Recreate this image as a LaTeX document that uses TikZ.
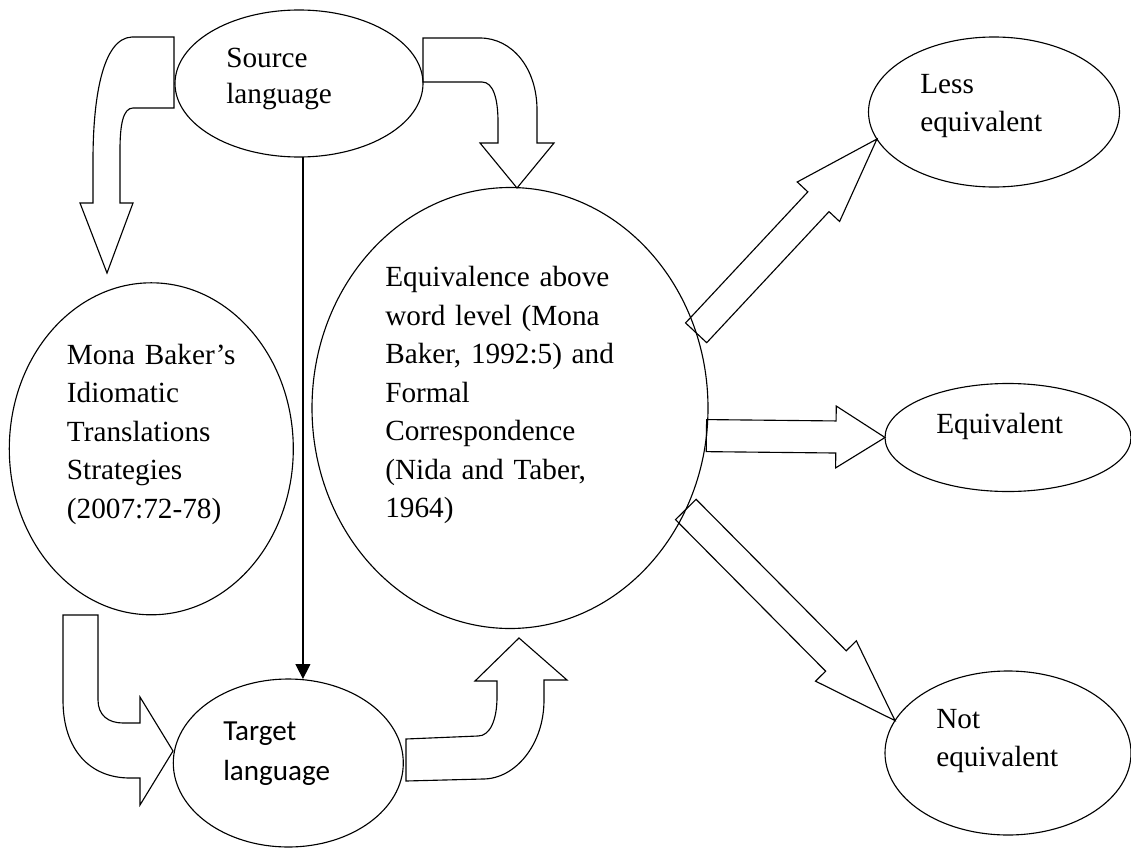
\documentclass[tikz,border=0pt]{standalone}
\usepackage{fontspec}
\setmainfont{Liberation Serif}
\newfontfamily\calibri{Carlito}
\usepackage{tikz}
\usetikzlibrary{arrows.meta,shapes.geometric,calc}

\newcommand{\blockarrow}[5]{%
  \draw[blk] ($(#1)!#3!90:(#2)$) -- ($(#2)!#5!(#1)!#3!-90:(#1)$)
    -- ($(#2)!#5!(#1)!#4!-90:(#1)$) -- (#2)
    -- ($(#2)!#5!(#1)!#4!90:(#1)$) -- ($(#2)!#5!(#1)!#3!90:(#1)$)
    -- ($(#1)!#3!-90:(#2)$) -- cycle;}

\begin{document}
\begin{tikzpicture}
		[x=0.025cm, y=-0.025cm,
		oval/.style 2 args={draw, ellipse, line width=0.8pt, inner sep=0pt, outer sep=0pt,
			minimum width=#1*0.025cm, minimum height=#2*0.025cm},
		txt/.style={anchor=base west, inner sep=0pt, text width=9cm, align=left,
			font={\fontsize{20.8}{27.4}\selectfont}},
		blk/.style={draw, line width=0.8pt, line join=miter},
		link/.style={line width=0.9pt, -{Triangle[length=10.5pt, width=10.5pt]}}]
		\useasboundingbox (0,0) rectangle (1131,848);
		\node[oval={248}{147}] (src) at (299,83.5) {};
		\node[oval={284}{332}] (mona) at (151.3,448.8) {};
		\node[oval={396}{441}] (eqv) at (510,408) {};
		\node[oval={230}{168}] (tgt) at (288.3,763) {};
		\node[oval={251}{150}] (less) at (994,112) {};
		\node[oval={246}{108}] (equi) at (1008,437.5) {};
		\node[oval={246}{164}] (noteq) at (1008,753) {};
		\node[txt, font={\fontsize{20.8}{26}\selectfont}] (srcT) at (226,67) {Source\\language};
		\node[txt] (monaT) at (66.7,364) {Mona Baker’s\\Idiomatic\\Translations\\Strategies\\(2007:72-78)};
		\node[txt] (eqvT) at (385,286.7) {Equivalence above\\word level (Mona\\Baker, 1992:5) and\\Formal\\Correspondence\\(Nida and Taber,\\1964)};
		\node[txt, font={\calibri\fontsize{20.7}{28.5}\selectfont}] (tgtT) at (223,740) {Target\\language};
		\node[txt] (lessT) at (920,93.3) {Less\\equivalent};
		\node[txt] (equiT) at (936,433) {Equivalent};
		\node[txt] (noteqT) at (936,728) {Not\\equivalent};
		\draw[link] ([xshift=2.8pt]src.south) -- ([xshift=2.8pt]src.south |- tgt.north);
		\draw[blk] (174,37) -- (132,37) .. controls (102,38) and (93,100) .. (93,160) -- (93,203)
			-- (80,203) -- (107,273) -- (133,203) -- (120,203) -- (120,150)
			.. controls (120,125) and (123,108) .. (133,108) -- (174,108) -- cycle;
		\draw[blk] (423,38) -- (480,38) .. controls (512,38) and (537,68) .. (537,110) -- (537,143)
			-- (554,143) -- (517,188) -- (480,143) -- (498,143) -- (498,122)
			.. controls (498,98) and (493,82) .. (482,82) -- (423,82) -- cycle;
		\draw[blk] (63,615) -- (98,615) -- (98,700) .. controls (98,715) and (108,723) .. (123,723)
			-- (140,723) -- (140,697) -- (173,751) -- (140,805) -- (140,778) -- (130,778)
			.. controls (90,778) and (63,750) .. (63,700) -- cycle;
		\draw[blk] (406,739) -- (478,736) .. controls (490,736) and (497,720) .. (497,697) -- (497,681)
			-- (475,681) -- (519,638) -- (567,680) -- (544,680) -- (544,700)
			.. controls (544,745) and (515,779) .. (483,779) -- (406,781) -- cycle;
		\blockarrow{eqv.22}{less.193}{10.3pt}{20.6pt}{61pt}
		\blockarrow{eqv.-8}{equi.west}{11.4pt}{22pt}{34.9pt}
		\blockarrow{eqv.-30}{noteq.164}{10.3pt}{20.4pt}{59.7pt}
		\end{tikzpicture}
\end{document}
